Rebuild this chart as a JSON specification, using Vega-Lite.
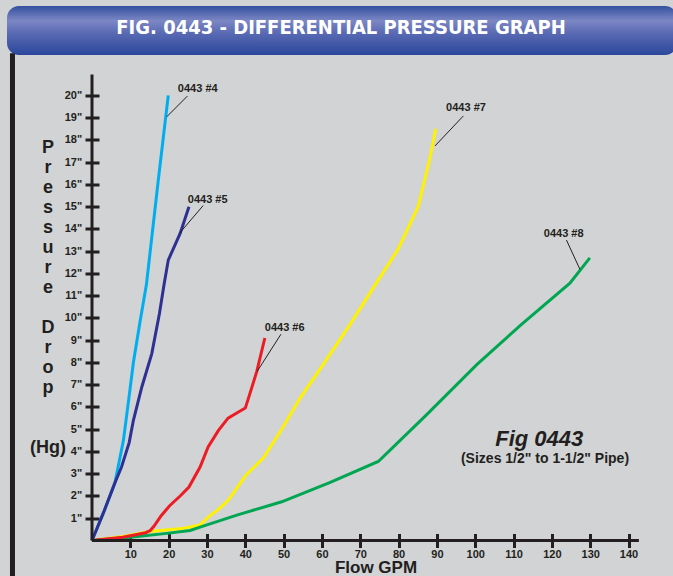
{
  "$schema": "https://vega.github.io/schema/vega-lite/v6.json",
  "background": "#d1d3d4",
  "padding": {"left": 7, "top": 6, "right": 0, "bottom": 0},
  "spacing": 19.5,
  "bounds": "flush",
  "config": {"view": {"stroke": null}, "font": "Liberation Sans, Arial, sans-serif"},
  "vconcat": [
    {
      "width": 670,
      "height": 49,
      "view": {
        "cornerRadius": 12,
        "stroke": null,
        "fill": {"gradient": "linear", "x1": 0, "y1": 0, "x2": 0, "y2": 1,
          "stops": [
            {"offset": 0, "color": "#34509f"},
            {"offset": 0.3, "color": "#7c87c4"},
            {"offset": 0.55, "color": "#5a6ab3"},
            {"offset": 1, "color": "#2b479c"}
          ]}
      },
      "data": {"values": [{"title": "FIG. 0443 - DIFFERENTIAL PRESSURE GRAPH"}]},
      "mark": {"type": "text", "color": "#ffffff", "font": "Liberation Sans Narrow, DejaVu Sans Condensed, Liberation Sans", "fontSize": 20, "fontWeight": "bold", "baseline": "middle", "dy": -2.5, "dx": -1},
      "encoding": {"text": {"field": "title"}}
    },
    {
      "width": 666,
      "height": 466,
      "layer": [
        {
          "data": {"values": [
            {"series": "0443 #7", "gpm": 0, "hg": 0},
            {"series": "0443 #7", "gpm": 8, "hg": 0.18},
            {"series": "0443 #7", "gpm": 15, "hg": 0.4},
            {"series": "0443 #7", "gpm": 24, "hg": 0.55},
            {"series": "0443 #7", "gpm": 28.2, "hg": 0.7},
            {"series": "0443 #7", "gpm": 30.8, "hg": 1.12},
            {"series": "0443 #7", "gpm": 33, "hg": 1.4},
            {"series": "0443 #7", "gpm": 35.6, "hg": 1.82},
            {"series": "0443 #7", "gpm": 38.2, "hg": 2.45},
            {"series": "0443 #7", "gpm": 40.2, "hg": 2.95},
            {"series": "0443 #7", "gpm": 44.7, "hg": 3.7},
            {"series": "0443 #7", "gpm": 49.5, "hg": 5.0},
            {"series": "0443 #7", "gpm": 54.3, "hg": 6.4},
            {"series": "0443 #7", "gpm": 60.3, "hg": 7.9},
            {"series": "0443 #7", "gpm": 67.3, "hg": 9.7},
            {"series": "0443 #7", "gpm": 74.3, "hg": 11.6},
            {"series": "0443 #7", "gpm": 79.9, "hg": 13.1},
            {"series": "0443 #7", "gpm": 85.1, "hg": 15.0},
            {"series": "0443 #7", "gpm": 88.2, "hg": 17.2},
            {"series": "0443 #7", "gpm": 89.7, "hg": 18.5},
            {"series": "0443 #8", "gpm": 0, "hg": 0},
            {"series": "0443 #8", "gpm": 10, "hg": 0.15},
            {"series": "0443 #8", "gpm": 19.5, "hg": 0.32},
            {"series": "0443 #8", "gpm": 25.6, "hg": 0.45},
            {"series": "0443 #8", "gpm": 28.2, "hg": 0.6},
            {"series": "0443 #8", "gpm": 38, "hg": 1.15},
            {"series": "0443 #8", "gpm": 49.5, "hg": 1.74},
            {"series": "0443 #8", "gpm": 62, "hg": 2.6},
            {"series": "0443 #8", "gpm": 74.7, "hg": 3.55},
            {"series": "0443 #8", "gpm": 87, "hg": 5.6},
            {"series": "0443 #8", "gpm": 100.4, "hg": 7.9},
            {"series": "0443 #8", "gpm": 112, "hg": 9.7},
            {"series": "0443 #8", "gpm": 124.7, "hg": 11.56},
            {"series": "0443 #8", "gpm": 129.9, "hg": 12.7},
            {"series": "0443 #6", "gpm": 0, "hg": 0},
            {"series": "0443 #6", "gpm": 8, "hg": 0.15},
            {"series": "0443 #6", "gpm": 14, "hg": 0.35},
            {"series": "0443 #6", "gpm": 15.2, "hg": 0.45},
            {"series": "0443 #6", "gpm": 16.2, "hg": 0.65},
            {"series": "0443 #6", "gpm": 18, "hg": 1.1},
            {"series": "0443 #6", "gpm": 20.2, "hg": 1.55},
            {"series": "0443 #6", "gpm": 23, "hg": 2.0},
            {"series": "0443 #6", "gpm": 25.3, "hg": 2.4},
            {"series": "0443 #6", "gpm": 28.2, "hg": 3.3},
            {"series": "0443 #6", "gpm": 30.3, "hg": 4.2},
            {"series": "0443 #6", "gpm": 33, "hg": 4.95},
            {"series": "0443 #6", "gpm": 35.5, "hg": 5.5},
            {"series": "0443 #6", "gpm": 38, "hg": 5.75},
            {"series": "0443 #6", "gpm": 40, "hg": 5.95},
            {"series": "0443 #6", "gpm": 41.2, "hg": 6.6},
            {"series": "0443 #6", "gpm": 43, "hg": 7.6},
            {"series": "0443 #6", "gpm": 45.1, "hg": 9.1},
            {"series": "0443 #4", "gpm": 0, "hg": 0},
            {"series": "0443 #4", "gpm": 3, "hg": 1.25},
            {"series": "0443 #4", "gpm": 6, "hg": 2.6},
            {"series": "0443 #4", "gpm": 8.2, "hg": 4.5},
            {"series": "0443 #4", "gpm": 9.7, "hg": 6.5},
            {"series": "0443 #4", "gpm": 10.8, "hg": 8.0},
            {"series": "0443 #4", "gpm": 12.5, "hg": 9.8},
            {"series": "0443 #4", "gpm": 14.2, "hg": 11.5},
            {"series": "0443 #4", "gpm": 17.3, "hg": 16.2},
            {"series": "0443 #4", "gpm": 19.9, "hg": 20.0},
            {"series": "0443 #5", "gpm": 0, "hg": 0},
            {"series": "0443 #5", "gpm": 3, "hg": 1.25},
            {"series": "0443 #5", "gpm": 6, "hg": 2.6},
            {"series": "0443 #5", "gpm": 7.7, "hg": 3.3},
            {"series": "0443 #5", "gpm": 9.7, "hg": 4.4},
            {"series": "0443 #5", "gpm": 10.8, "hg": 5.4},
            {"series": "0443 #5", "gpm": 13, "hg": 6.9},
            {"series": "0443 #5", "gpm": 15.6, "hg": 8.4},
            {"series": "0443 #5", "gpm": 17.6, "hg": 10.2},
            {"series": "0443 #5", "gpm": 18.8, "hg": 11.5},
            {"series": "0443 #5", "gpm": 19.9, "hg": 12.6},
            {"series": "0443 #5", "gpm": 23, "hg": 13.8},
            {"series": "0443 #5", "gpm": 25.3, "hg": 15.0}
          ]},
          "mark": {"type": "line", "strokeWidth": 3},
          "encoding": {
            "x": {
              "field": "gpm", "type": "quantitative",
              "scale": {"domain": [-22.18, 151.6], "nice": false, "zero": false},
              "axis": {
                "values": [10, 20, 30, 40, 50, 60, 70, 80, 90, 100, 110, 120, 130, 140],
                "tickCount": 30,
                "domain": false, "grid": false, "offset": -7,
                "tickSize": 14, "tickWidth": 3, "tickColor": "#231f20",
                "labelFontSize": 11, "labelFontWeight": "bold", "labelColor": "#231f20",
                "labelPadding": 1, "labelFlush": false, "labelOverlap": false,
                "title": "Flow GPM", "titleFontSize": 17, "titleFontWeight": "bold", "titleColor": "#231f20",
                "titleX": 368.5, "titleY": 39.2, "titleBaseline": "alphabetic", "titleAlign": "center"
              }
            },
            "y": {
              "field": "hg", "type": "quantitative",
              "scale": {"domain": [0, 20.94], "nice": false, "zero": false},
              "axis": {
                "values": [1, 2, 3, 4, 5, 6, 7, 8, 9, 10, 11, 12, 13, 14, 15, 16, 17, 18, 19, 20],
                "tickCount": 30,
                "labelExpr": "datum.value + '\"'",
                "domain": false, "grid": false, "offset": -92,
                "tickSize": 14, "tickWidth": 3, "tickColor": "#231f20",
                "labelFontSize": 11, "labelFontWeight": "bold", "labelColor": "#231f20",
                "labelPadding": 3.3, "labelOverlap": false,
                "title": ["P", "r", "e", "s", "s", "u", "r", "e", "\u2800", "D", "r", "o", "p", "\u2800", "\u2800", "(Hg)"],
                "titleAngle": 0, "titleAlign": "center", "titleBaseline": "top",
                "titleX": -51.5, "titleY": 64.2, "titleLineHeight": 20,
                "titleFontSize": 18, "titleFontWeight": "bold", "titleColor": "#231f20"
              }
            },
            "color": {
              "field": "series", "type": "nominal",
              "scale": {
                "domain": ["0443 #4", "0443 #5", "0443 #6", "0443 #7", "0443 #8"],
                "range": ["#00aeef", "#2e3192", "#ed1c24", "#fff200", "#00a651"]
              },
              "legend": null
            }
          }
        },
        {
          "data": {"values": [
            {"line": "x axis", "gpm": 0, "hg": 0, "gpm2": 142.7, "hg2": 0},
            {"line": "y axis", "gpm": 0, "hg": 0, "gpm2": 0, "hg2": 20.94}
          ]},
          "mark": {"type": "rule", "color": "#231f20", "strokeWidth": 3},
          "encoding": {
            "x": {"field": "gpm", "type": "quantitative", "scale": {"domain": [-22.18, 151.6], "nice": false, "zero": false}},
            "y": {"field": "hg", "type": "quantitative", "scale": {"domain": [0, 20.94], "nice": false, "zero": false}},
            "x2": {"field": "gpm2"},
            "y2": {"field": "hg2"}
          }
        },
        {
          "data": {"values": [
            {"line": "frame", "gpm": -20.75, "hg": -1.7, "gpm2": -20.75, "hg2": 21.9}
          ]},
          "mark": {"type": "rule", "color": "#231f20", "strokeWidth": 5},
          "encoding": {
            "x": {"field": "gpm", "type": "quantitative", "scale": {"domain": [-22.18, 151.6], "nice": false, "zero": false}},
            "y": {"field": "hg", "type": "quantitative", "scale": {"domain": [0, 20.94], "nice": false, "zero": false}},
            "x2": {"field": "gpm2"},
            "y2": {"field": "hg2"}
          }
        },
        {
          "data": {"values": [
            {"series": "0443 #4", "gpm": 24.9, "hg": 19.97, "gpm2": 19.5, "hg2": 19.04},
            {"series": "0443 #5", "gpm": 29.0, "hg": 15.05, "gpm2": 22.8, "hg2": 13.8},
            {"series": "0443 #6", "gpm": 49.3, "hg": 9.27, "gpm2": 43.1, "hg2": 7.6},
            {"series": "0443 #7", "gpm": 96.9, "hg": 19.08, "gpm2": 89.5, "hg2": 17.73},
            {"series": "0443 #8", "gpm": 123.8, "hg": 13.5, "gpm2": 127.3, "hg2": 12.19}
          ]},
          "mark": {"type": "rule", "color": "#231f20", "strokeWidth": 1},
          "encoding": {
            "x": {"field": "gpm", "type": "quantitative", "scale": {"domain": [-22.18, 151.6], "nice": false, "zero": false}},
            "y": {"field": "hg", "type": "quantitative", "scale": {"domain": [0, 20.94], "nice": false, "zero": false}},
            "x2": {"field": "gpm2"},
            "y2": {"field": "hg2"}
          }
        },
        {
          "data": {"values": [
            {"series": "0443 #4", "gpm": 22.4, "hg": 20.3},
            {"series": "0443 #5", "gpm": 25.0, "hg": 15.3},
            {"series": "0443 #6", "gpm": 45.1, "hg": 9.54},
            {"series": "0443 #7", "gpm": 92.4, "hg": 19.44},
            {"series": "0443 #8", "gpm": 117.9, "hg": 13.79}
          ]},
          "mark": {"type": "text", "align": "left", "baseline": "middle", "fontSize": 11, "fontWeight": "bold", "color": "#231f20"},
          "encoding": {
            "x": {"field": "gpm", "type": "quantitative", "scale": {"domain": [-22.18, 151.6], "nice": false, "zero": false}},
            "y": {"field": "hg", "type": "quantitative", "scale": {"domain": [0, 20.94], "nice": false, "zero": false}},
            "text": {"field": "series"}
          }
        },
        {
          "data": {"values": [{"note": "Fig 0443", "gpm": 116.7, "hg": 4.56}]},
          "mark": {"type": "text", "align": "center", "baseline": "middle", "fontSize": 22, "fontWeight": "bold", "fontStyle": "italic", "color": "#231f20"},
          "encoding": {
            "x": {"field": "gpm", "type": "quantitative", "scale": {"domain": [-22.18, 151.6], "nice": false, "zero": false}},
            "y": {"field": "hg", "type": "quantitative", "scale": {"domain": [0, 20.94], "nice": false, "zero": false}},
            "text": {"field": "note"}
          }
        },
        {
          "data": {"values": [{"note": "(Sizes 1/2\" to 1-1/2\" Pipe)", "gpm": 118.2, "hg": 3.66}]},
          "mark": {"type": "text", "align": "center", "baseline": "middle", "fontSize": 14, "fontWeight": "bold", "color": "#231f20"},
          "encoding": {
            "x": {"field": "gpm", "type": "quantitative", "scale": {"domain": [-22.18, 151.6], "nice": false, "zero": false}},
            "y": {"field": "hg", "type": "quantitative", "scale": {"domain": [0, 20.94], "nice": false, "zero": false}},
            "text": {"field": "note"}
          }
        }
      ]
    }
  ]
}
